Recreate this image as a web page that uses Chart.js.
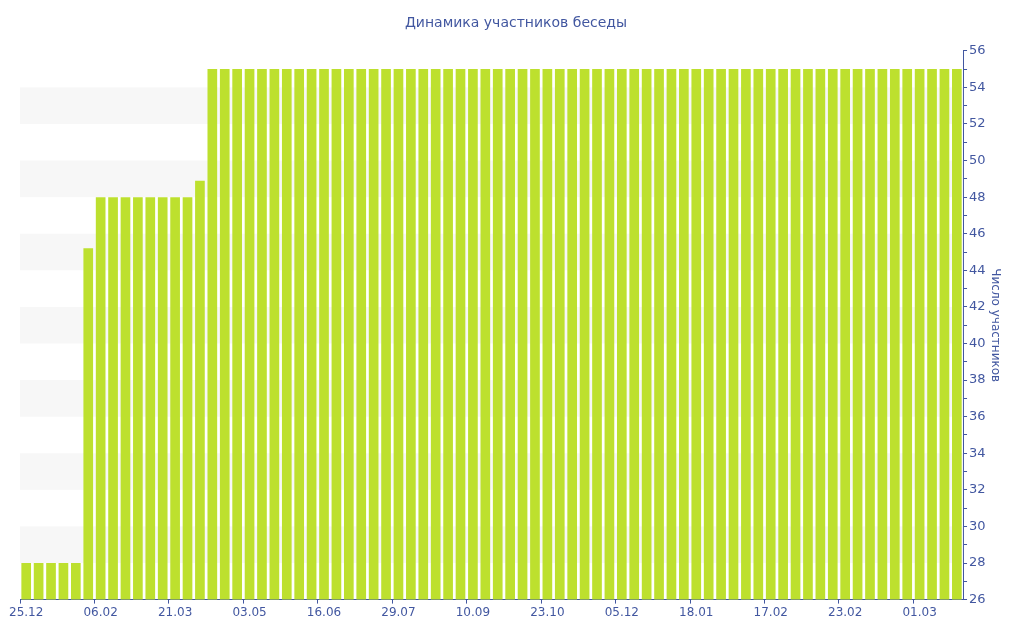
<!DOCTYPE html>
<html>
<head>
<meta charset="utf-8">
<script src="https://cdn.jsdelivr.net/npm/chart.js@4.4.1/dist/chart.umd.min.js"></script>
<style>
  html, body { margin: 0; padding: 0; background: #fff; }
  #wrap { width: 1024px; height: 640px; }
</style>
</head>
<body>
<div id="wrap"><canvas id="membersChart" width="1024" height="640"></canvas></div>
<script>
// tick labels shown under every 6th bar
const tickLabels = ['25.12', '06.02', '21.03', '03.05', '16.06', '29.07', '10.09',
  '23.10', '05.12', '18.01', '17.02', '23.02', '01.03'];
const labelEvery = 6;

// number of members per bar
const members = [
  28, 28, 28, 28, 28, 45.2, 48, 48, 48, 48, 48, 48, 48, 48, 48.9,
  55, 55, 55, 55, 55, 55, 55, 55, 55, 55,
  55, 55, 55, 55, 55, 55, 55, 55, 55, 55,
  55, 55, 55, 55, 55, 55, 55, 55, 55, 55,
  55, 55, 55, 55, 55, 55, 55, 55, 55, 55,
  55, 55, 55, 55, 55, 55, 55, 55, 55, 55,
  55, 55, 55, 55, 55, 55, 55, 55, 55, 55,
  55
];

// shaded horizontal bands [from, to]
const bands = [[28, 30], [32, 34], [36, 38], [40, 42], [44, 46], [48, 50], [52, 54]];

const categories = members.map((_, i) => (i % labelEvery === 0 ? tickLabels[i / labelEvery] : ''));

const blue = '#4257a0';
const font = 'DejaVu Sans, Verdana, sans-serif';

const bandPlugin = {
  id: 'bands',
  beforeDatasetsDraw(chart) {
    const { ctx, chartArea, scales } = chart;
    ctx.save();
    ctx.fillStyle = '#f7f7f7';
    bands.forEach(([a, b]) => {
      const y1 = scales.y.getPixelForValue(b);
      const y2 = scales.y.getPixelForValue(a);
      ctx.fillRect(chartArea.left, y1, chartArea.right - chartArea.left, y2 - y1);
    });
    ctx.restore();
  }
};

new Chart(document.getElementById('membersChart').getContext('2d'), {
  type: 'bar',
  data: {
    labels: categories,
    datasets: [{
      label: 'Число участников',
      data: members,
      backgroundColor: '#bde02e',
      borderWidth: 0,
      categoryPercentage: 1,
      barPercentage: 0.78
    }]
  },
  options: {
    responsive: false,
    animation: false,
    layout: { padding: { left: 20, right: 12, top: 0, bottom: 18 } },
    plugins: {
      legend: { display: false },
      tooltip: { enabled: false },
      title: {
        display: true,
        text: 'Динамика участников беседы',
        color: blue,
        font: { family: font, size: 14, weight: 'normal' },
        padding: { top: 15, bottom: 19 }
      }
    },
    scales: {
      x: {
        offset: true,
        border: { display: true, color: blue, width: 1 },
        grid: {
          drawOnChartArea: false,
          tickLength: 4,
          color: (c) => (c.tick && c.tick.label ? blue : 'transparent')
        },
        ticks: {
          autoSkip: false,
          maxRotation: 0,
          color: blue,
          font: { family: font, size: 12 },
          padding: 2
        }
      },
      y: {
        position: 'right',
        min: 26,
        max: 56,
        border: { display: true, color: blue, width: 1 },
        grid: { drawOnChartArea: false, tickLength: 4, color: blue },
        ticks: {
          stepSize: 1,
          autoSkip: false,
          color: blue,
          font: { family: font, size: 13 },
          padding: 2,
          callback: (v) => (v % 2 === 0 ? v : '')
        },
        title: {
          display: true,
          text: 'Число участников',
          color: blue,
          font: { family: font, size: 12 },
          padding: { top: 10, bottom: 0 }
        }
      }
    }
  },
  plugins: [bandPlugin]
});
</script>
</body>
</html>
